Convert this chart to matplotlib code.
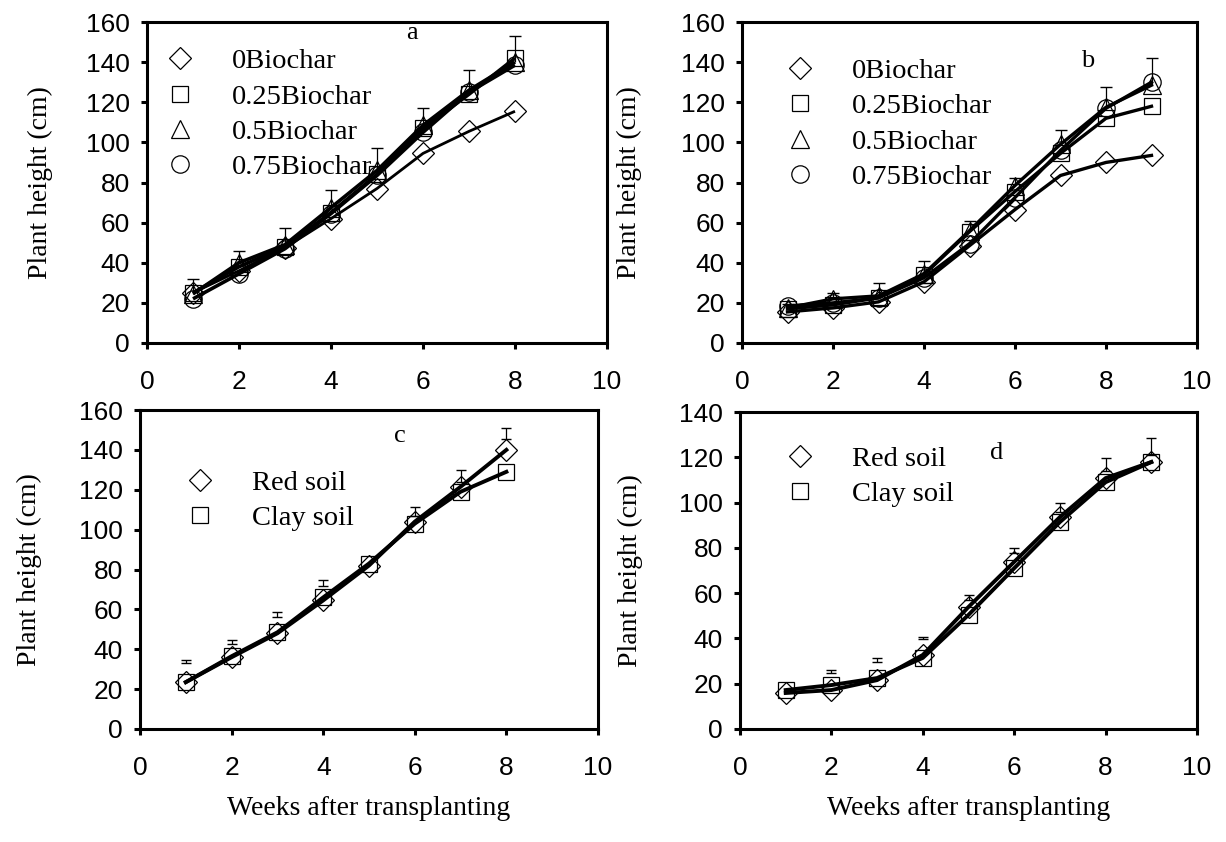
import matplotlib
matplotlib.use("Agg")
import matplotlib.pyplot as plt
from matplotlib.lines import Line2D
import numpy as np

SERIF = "Liberation Serif"
SANS = "Liberation Sans"

# ---------------- data ----------------
weeks_a = [1, 2, 3, 4, 5, 6, 7, 8]
a_0bc = [25, 36, 47.5, 62, 77, 94.5, 105.5, 115.5]
a_025bc = [25, 38, 48, 65, 84, 107, 124, 142]
a_05bc = [24.5, 40, 49, 67.5, 86, 108.5, 126, 140]
a_075bc = [22, 34.5, 47, 64.5, 83.5, 105, 125, 138.5]
a_err = [7.5, 6, 8.5, 9, 11, 8.5, 10, 13]

weeks_b = [1, 2, 3, 4, 5, 6, 7, 8, 9]
b_0bc = [15.5, 17.5, 20.5, 30.5, 48.5, 66.5, 83.5, 90, 93.5]
b_025bc = [17, 19, 22.5, 34, 55.5, 75.5, 94.5, 112, 118]
b_05bc = [17.5, 22, 23.5, 34.5, 56, 78.5, 99, 117.5, 128.5]
b_075bc = [18.5, 20, 22.5, 32.5, 49.5, 72.5, 96, 117, 130]
b_err = [2, 3, 6.5, 6.5, 5, 3.5, 7, 10, 13.5]

weeks_c = [1, 2, 3, 4, 5, 6, 7, 8]
c_red = [23.5, 36, 48, 64.5, 82, 104, 121.5, 140]
c_clay = [23.5, 36.5, 48.5, 66, 83, 103, 119, 129]
c_err_low = [33, 42.5, 56, 71.5, np.nan, 107, 124, 145.5]
c_err_high = [34.5, 44.5, 58.5, 74.5, np.nan, 111.5, 130, 151]

weeks_d = [1, 2, 3, 4, 5, 6, 7, 8, 9]
d_red = [15.9, 17.2, 21.6, 32.7, 53.9, 73.8, 93.6, 110.8, 117.9]
d_clay = [17.2, 19.4, 22.5, 31.4, 50.4, 71, 91.4, 109, 117.9]
d_err_low = [np.nan, 24.7, 29.7, 39.8, 57, 77.7, 96, 114, 121.2]
d_err_high = [np.nan, 26.1, 31.4, 40.7, 59, 80, 100, 119.7, 128.3]

biochar_labels = ["0Biochar", "0.25Biochar", "0.5Biochar", "0.75Biochar"]
soil_labels = ["Red soil", "Clay soil"]
xticks = [0, 2, 4, 6, 8, 10]
yticks_160 = [0, 20, 40, 60, 80, 100, 120, 140, 160]
yticks_140 = [0, 20, 40, 60, 80, 100, 120, 140]
xlabel = "Weeks after transplanting"
ylabel = "Plant height (cm)"

# ---------------- style ----------------
MEW = 0.9
markers4 = ["D", "s", "^", "o"]
msizes4 = [11.5, 12, 13, 12.5]

fig = plt.figure(figsize=(12.26, 8.42), dpi=100)

def setup(ax, ylim_top, yticks):
    ax.set_xlim(0, 10)
    ax.set_ylim(0, ylim_top)
    ax.set_xticks(xticks)
    ax.set_yticks(yticks)
    for s in ax.spines.values():
        s.set_linewidth(2.2)
        s.set_color("black")
    ax.tick_params(axis="both", direction="out", length=4.5, width=2.2,
                   labelsize=19, colors="black")
    ax.tick_params(axis="x", pad=15)
    ax.tick_params(axis="y", pad=8)
    for lab in ax.get_xticklabels() + ax.get_yticklabels():
        lab.set_fontfamily(SANS)
    ax.set_ylabel(ylabel, fontfamily=SERIF, fontsize=20)

def legend(ax, labels, mk, sizes, anchor):
    handles = [Line2D([], [], marker=m, mfc="none", mec="black", mew=MEW,
                      ms=s, ls="none") for m, s in zip(mk, sizes)]
    ax.legend(handles, labels, loc="upper left", bbox_to_anchor=anchor,
              frameon=False, borderpad=0, borderaxespad=0, handlelength=1.0,
              handletextpad=1.32, labelspacing=0.33,
              prop=dict(family=SERIF, size=20.5))

def upper_bars(ax, x, y, e):
    x = np.asarray(x); y = np.asarray(y); e = np.asarray(e)
    ax.vlines(x, y, y + e, colors="black", lw=0.9, zorder=2)
    ax.plot(x, y + e, ls="none", marker="_", ms=8, mew=1.0, color="black", zorder=2)

def floating_bars(ax, x, lo, hi):
    lo = np.asarray(lo, dtype=float); hi = np.asarray(hi, dtype=float)
    ax.errorbar(x, lo, yerr=[np.zeros_like(lo), hi - lo], fmt="none",
                ecolor="black", elinewidth=0.9, capsize=3.6, capthick=1.0, zorder=2)

# ---------------- panel a ----------------
ax_a = fig.add_axes([147/1226, 1-343/842, 460/1226, 321/842])
setup(ax_a, 160, yticks_160)
series_a = [a_0bc, a_025bc, a_05bc, a_075bc]
upper_bars(ax_a, weeks_a, a_05bc, a_err)
for ys, m, s in zip(series_a, markers4, msizes4):
    ax_a.plot(weeks_a, ys, marker=m, mfc="none", mec="black", mew=MEW, ms=s,
              ls="none", zorder=3)
for i, ys in enumerate(series_a):
    ax_a.plot(weeks_a, ys, color="black", lw=2.0 if i == 0 else 2.6,
              solid_joinstyle="round", solid_capstyle="butt", zorder=4)
legend(ax_a, biochar_labels, markers4, msizes4, (0.041, 0.918))
ax_a.text(0.576, 0.965, "a", transform=ax_a.transAxes, fontfamily=SERIF,
          fontsize=19, ha="center", va="center")
ax_a.yaxis.set_label_coords(-0.204, 0.5)

# ---------------- panel b ----------------
ax_b = fig.add_axes([742/1226, 1-343/842, 455/1226, 321/842])
setup(ax_b, 160, yticks_160)
series_b = [b_0bc, b_025bc, b_05bc, b_075bc]
upper_bars(ax_b, weeks_b, b_05bc, b_err)
for ys, m, s in zip(series_b, markers4, msizes4):
    ax_b.plot(weeks_b, ys, marker=m, mfc="none", mec="black", mew=MEW, ms=s,
              ls="none", zorder=3)
for ys in series_b:
    ax_b.plot(weeks_b, ys, color="black", lw=2.4, solid_joinstyle="round",
              zorder=4)
legend(ax_b, biochar_labels, markers4, msizes4, (0.097, 0.888))
ax_b.text(0.760, 0.88, "b", transform=ax_b.transAxes, fontfamily=SERIF,
          fontsize=19, ha="center", va="center")
ax_b.yaxis.set_label_coords(-0.22, 0.5)

# ---------------- panel c ----------------
ax_c = fig.add_axes([140/1226, 1-729/842, 458/1226, 319/842])
setup(ax_c, 160, yticks_160)
floating_bars(ax_c, weeks_c, c_err_low, c_err_high)
for ys, m, s in zip([c_red, c_clay], markers4[:2], msizes4[:2]):
    ax_c.plot(weeks_c, ys, marker=m, mfc="none", mec="black", mew=MEW, ms=s,
              ls="none", zorder=3)
for ys in [c_red, c_clay]:
    ax_c.plot(weeks_c, ys, color="black", lw=2.8, solid_joinstyle="round",
              zorder=4)
legend(ax_c, soil_labels, markers4[:2], msizes4[:2], (0.100, 0.812))
ax_c.text(0.568, 0.92, "c", transform=ax_c.transAxes, fontfamily=SERIF,
          fontsize=19, ha="center", va="center")
ax_c.yaxis.set_label_coords(-0.214, 0.5)
ax_c.set_xlabel(xlabel, fontfamily=SERIF, fontsize=20)
ax_c.xaxis.set_label_coords(0.5, -0.21)

# ---------------- panel d ----------------
ax_d = fig.add_axes([740/1226, 1-729/842, 457/1226, 317/842])
setup(ax_d, 140, yticks_140)
floating_bars(ax_d, weeks_d, d_err_low, d_err_high)
for ys, m, s in zip([d_red, d_clay], markers4[:2], msizes4[:2]):
    ax_d.plot(weeks_d, ys, marker=m, mfc="none", mec="black", mew=MEW, ms=s,
              ls="none", zorder=3)
for ys in [d_red, d_clay]:
    ax_d.plot(weeks_d, ys, color="black", lw=2.8, solid_joinstyle="round",
              zorder=4)
legend(ax_d, soil_labels, markers4[:2], msizes4[:2], (0.101, 0.893))
ax_d.text(0.562, 0.87, "d", transform=ax_d.transAxes, fontfamily=SERIF,
          fontsize=19, ha="center", va="center")
ax_d.yaxis.set_label_coords(-0.212, 0.5)
ax_d.set_xlabel(xlabel, fontfamily=SERIF, fontsize=20)
ax_d.xaxis.set_label_coords(0.5, -0.21)

fig.savefig("out.png", dpi=100)
